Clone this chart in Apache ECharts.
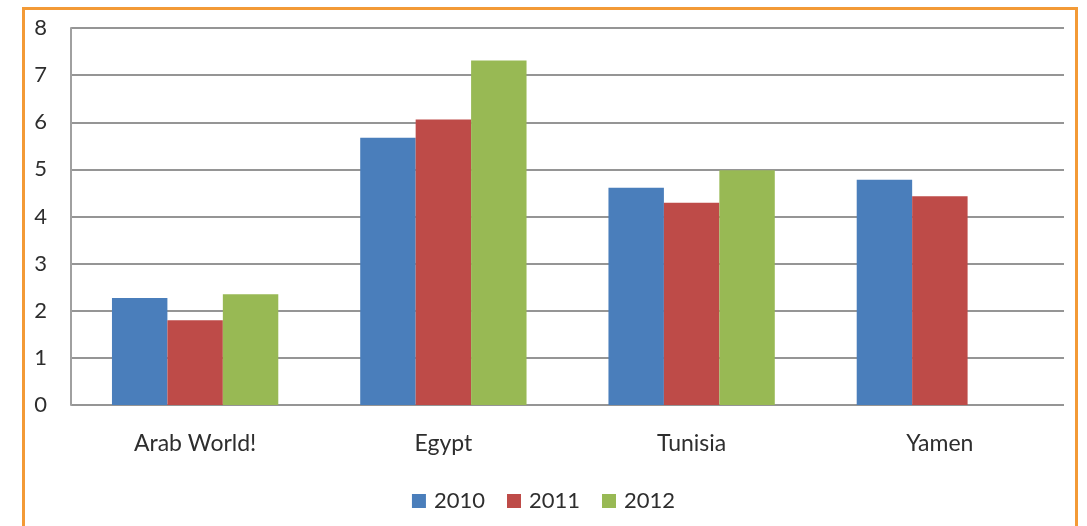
<!DOCTYPE html>
<html>
<head>
<meta charset="utf-8">
<script src="https://cdn.jsdelivr.net/npm/echarts@6/dist/echarts.min.js"></script>
<style>
  html, body { margin: 0; padding: 0; background: #fff; }
  #frame {
    position: absolute; left: 22px; top: 7px; width: 1056px; height: 560px;
    border: 3px solid #f39a36; box-sizing: border-box;
  }
  #chart { position: absolute; left: 0; top: 0; width: 1087px; height: 526px; }
</style>
</head>
<body>
<div id="frame"></div>
<div id="chart"></div>
<script>
// values
const categories = ["Arab World!", "Egypt", "Tunisia", "Yamen"];
const years = ["2010", "2011", "2012"];
const data2010 = [2.27, 5.67, 4.61, 4.78];
const data2011 = [1.80, 6.06, 4.29, 4.43];
const data2012 = [2.35, 7.31, 4.98, null];
const yTicks = [0, 1, 2, 3, 4, 5, 6, 7, 8];

const colors = ["#4a7ebb", "#be4b48", "#98b954"];
const seriesData = [data2010, data2011, data2012];

const chart = echarts.init(document.getElementById("chart"));

chart.setOption({
  animation: false,
  textStyle: { fontFamily: "Lato" },
  grid: {
    left: 71,
    right: 23,
    top: 28,
    bottom: 121,
  },
  legend: {
    data: years,
    left: "center",
    top: 485,
    itemWidth: 14,
    itemHeight: 14,
    itemGap: 22,
    icon: "rect",
    textStyle: { fontSize: 22, color: "#2e2e2e", padding: [0, 0, 0, 3] },
  },
  xAxis: {
    type: "category",
    data: categories,
    axisLine: { show: false },
    axisTick: { show: false },
    axisLabel: { fontSize: 23, color: "#2e2e2e", margin: 27 },
  },
  yAxis: {
    type: "value",
    min: yTicks[0],
    max: yTicks[yTicks.length - 1],
    interval: 1,
    axisLine: { show: true, lineStyle: { color: "#a0a0a0", width: 2 } },
    axisTick: { show: false },
    axisLabel: { fontSize: 22, color: "#2e2e2e", margin: 24 },
    splitLine: { lineStyle: { color: "#959595", width: 2 } },
  },
  series: years.map((y, i) => ({
    name: y,
    type: "bar",
    data: seriesData[i],
    barGap: "0%",
    barCategoryGap: "33%",
    itemStyle: { color: colors[i] },
  })),
});
</script>
</body>
</html>
